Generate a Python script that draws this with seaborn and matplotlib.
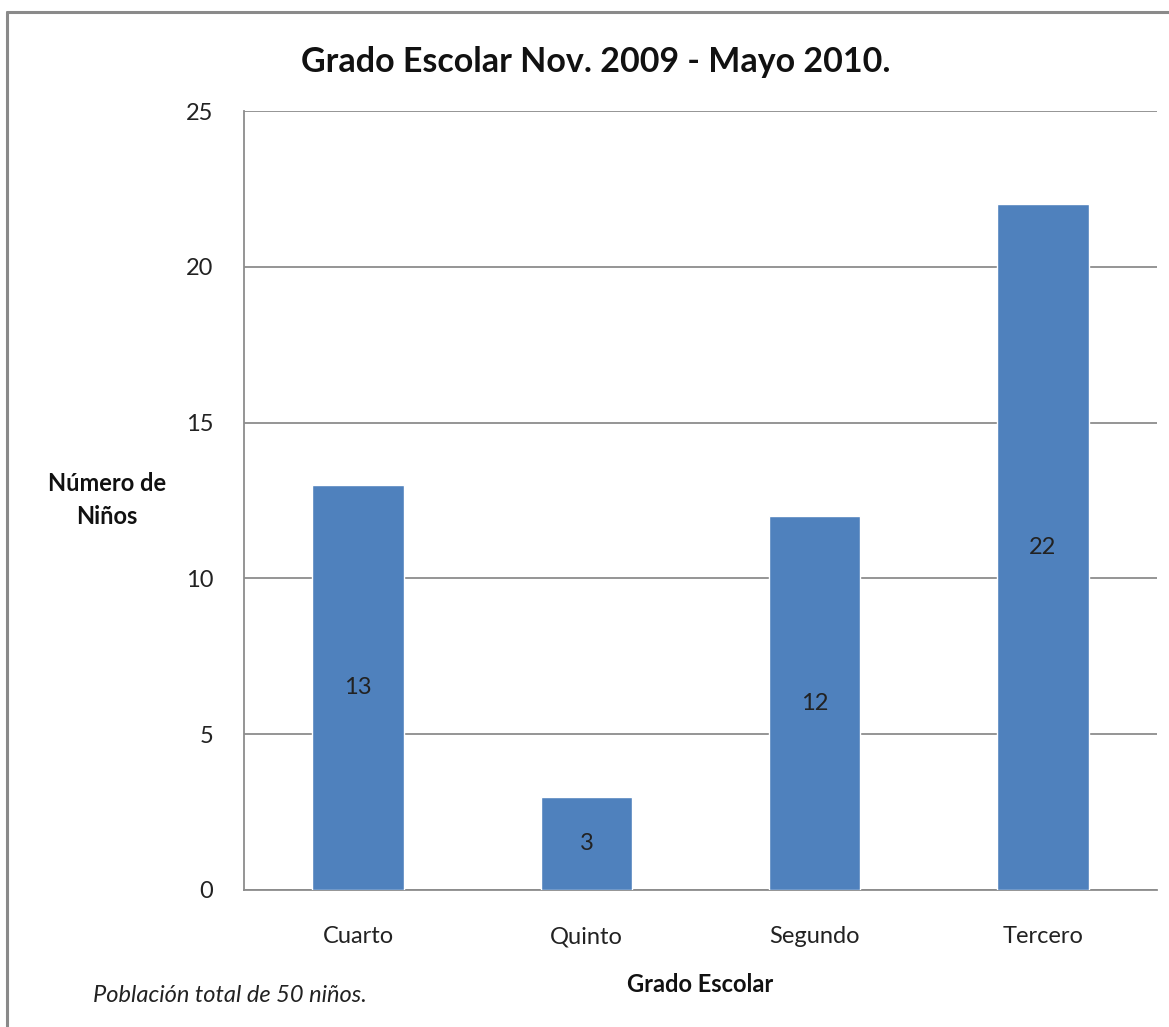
import matplotlib
matplotlib.use("Agg")
import matplotlib.pyplot as plt
import seaborn as sns
import pandas as pd
from matplotlib.lines import Line2D

categories = ["Cuarto", "Quinto", "Segundo", "Tercero"]
values = [13, 3, 12, 22]
yticks = [0, 5, 10, 15, 20, 25]

title = "Grado Escolar Nov. 2009 - Mayo 2010."
xlabel = "Grado Escolar"
ylabel = "Número de\nNiños"
footnote = "Población total de 50 niños."

sns.set_theme(style="white")
plt.rcParams["font.family"] = ["Lato", "DejaVu Sans"]

W, H = 1169, 1027
fig = plt.figure(figsize=(W / 100, H / 100), dpi=100)
ax = fig.add_axes([244 / W, 1 - 890 / H, (1157 - 244) / W, (890 - 111) / H])

df = pd.DataFrame({"cat": categories, "val": values})
sns.barplot(data=df, x="cat", y="val", color="#4F81BD", width=0.4,
            saturation=1, ax=ax, zorder=3)

ax.set_ylim(0, 25)
ax.set_yticks(yticks)
ax.set_xlim(-0.5, len(categories) - 0.5)
ax.yaxis.grid(True, color="#8C8C8C", linewidth=1.3, zorder=0)
ax.set_axisbelow(True)
for s in ["top", "right"]:
    ax.spines[s].set_visible(False)
for s in ["left", "bottom"]:
    ax.spines[s].set_color("#8C8C8C")
    ax.spines[s].set_linewidth(1.3)
ax.tick_params(axis="both", length=0, labelsize=17, colors="#222222")
ax.tick_params(axis="y", pad=22)
ax.tick_params(axis="x", pad=26)
ax.set_xlabel("")
ax.set_ylabel("")

for c in ax.containers:
    ax.bar_label(c, labels=[str(v) for v in values], label_type="center",
                 fontsize=17, color="#222222")

fig.text(596 / W, 1 - 62 / H, title, ha="center", va="center",
         fontsize=24.5, fontweight="bold", color="#111111")
fig.text(700 / W, 1 - 985 / H, xlabel, ha="center", va="center",
         fontsize=17, fontweight="bold", color="#111111")
fig.text(107 / W, 1 - 500 / H, ylabel, ha="center", va="center",
         fontsize=17, fontweight="bold", color="#111111", linespacing=1.5)
fig.text(93 / W, 1 - 996 / H, footnote, ha="left", va="center",
         fontsize=17, fontstyle="italic", color="#222222")

# outer border (left and top visible)
fig.add_artist(Line2D([7 / W, 7 / W], [0, 1 - 12 / H], color="#8A8A8A",
                      linewidth=2.2, transform=fig.transFigure))
fig.add_artist(Line2D([7 / W, 1], [1 - 12 / H, 1 - 12 / H], color="#8A8A8A",
                      linewidth=2.2, transform=fig.transFigure))

fig.savefig("out.png", dpi=100)
